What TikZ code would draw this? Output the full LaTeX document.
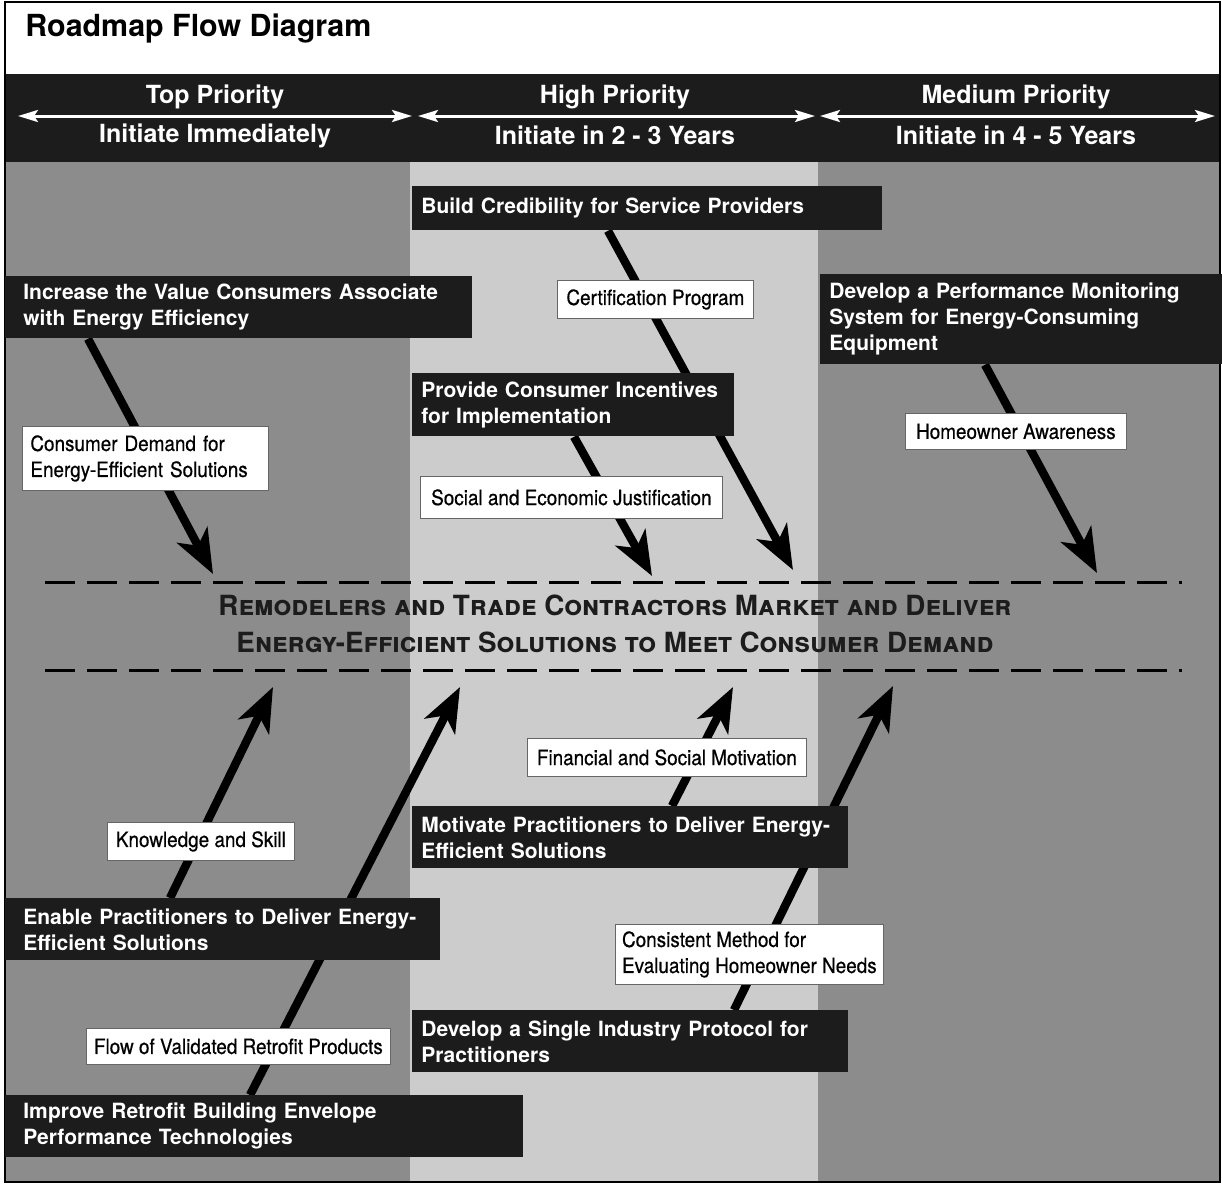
\documentclass[tikz,border=0pt]{standalone}
\usepackage{fontspec}
\setmainfont{TeX Gyre Heros}
\newfontfamily\lblfont[FakeStretch=0.9,FakeBold=0.6]{TeX Gyre Heros}
\usetikzlibrary{arrows.meta,calc}

\pgfdeclarelayer{bg}
\pgfdeclarelayer{arr}
\pgfsetlayers{bg,arr,main}

\definecolor{colgray}{gray}{0.55}
\definecolor{colpale}{gray}{0.80}
\definecolor{boxdark}{gray}{0.11}

\tikzset{
  actbox/.style={fill=boxdark, text=white, anchor=north west, align=left,
    inner xsep=4.5pt, inner ysep=0pt, font=\fontsize{10.5}{13}\selectfont\bfseries},
  flowlbl/.style={fill=white, draw=black!60, line width=0.4pt, anchor=north west,
    align=left, inner sep=0pt, font=\lblfont\fontsize{10.5}{13}\selectfont},
  flowarrow/.style={line width=4.2pt, -{Stealth[length=22pt,width=17pt,inset=6pt]}},
  hdrarrow/.style={white, line width=1.5pt,
    {Stealth[length=10pt,width=6pt,inset=2pt]}-{Stealth[length=10pt,width=6pt,inset=2pt]}},
  hdrtext/.style={text=white, font=\fontsize{12.5}{15}\selectfont\bfseries},
  goalline/.style={line width=1.5pt, dash pattern=on 15pt off 6pt},
}

\begin{document}
\begin{tikzpicture}[x=0.5pt,y=-0.5pt]

\useasboundingbox (0,0) rectangle (1222,1184);

% columns and header band
\begin{pgfonlayer}{bg}
\fill[white] (0,0) rectangle (1222,1184);
\fill[colgray] (5,162) rectangle (410,1182);
\fill[colpale] (410,162) rectangle (818,1182);
\fill[colgray] (818,162) rectangle (1220,1182);
\fill[boxdark] (5,74) rectangle (1220,162);
\draw[line width=0.8pt] (5,2) rectangle (1220,1182);
\end{pgfonlayer}

\node[anchor=west, inner sep=0pt, font=\fontsize{15.2}{18}\selectfont\bfseries] (title) at (25,28) {Roadmap Flow Diagram};

% priority header
\node[hdrtext] (toppri) at (215,97) {Top Priority};
\node[hdrtext] (topwhen) at (215,136) {Initiate Immediately};
\node[hdrtext] (highpri) at (615,97) {High Priority};
\node[hdrtext] (highwhen) at (615,135) {Initiate in 2 - 3 Years};
\node[hdrtext] (medpri) at (1016,97) {Medium Priority};
\node[hdrtext] (medwhen) at (1016,135) {Initiate in 4 - 5 Years};

\draw[hdrarrow] (18,116) -- (412,116);
\draw[hdrarrow] (418,116) -- (815,116);
\draw[hdrarrow] (820,116) -- (1215,116);

% action boxes
\node[actbox, text width=226pt, minimum height=22pt] (credib) at (412,186)
  {Build Credibility for Service Providers};
\node[actbox, inner xsep=9pt, text width=215.5pt, minimum height=31pt] (incval) at (5,276)
  {Increase the Value Consumers Associate\\with Energy Efficiency};
\node[actbox, text width=192pt, minimum height=45pt] (perfmon) at (820,274)
  {Develop a Performance Monitoring\\System for Energy-Consuming\\Equipment};
\node[actbox, text width=152pt, minimum height=31.5pt] (incent) at (412,373)
  {Provide Consumer Incentives\\for Implementation};
\node[actbox, text width=209pt, minimum height=31pt] (motiv) at (412,806)
  {Motivate Practitioners to Deliver Energy-\\Efficient Solutions};
\node[actbox, inner xsep=9pt, text width=199.5pt, minimum height=31pt] (enable) at (5,898)
  {Enable Practitioners to Deliver Energy-\\Efficient Solutions};
\node[actbox, text width=209pt, minimum height=31pt] (protocol) at (412,1010)
  {Develop a Single Industry Protocol for\\Practitioners};
\node[actbox, inner xsep=9pt, text width=241pt, minimum height=31pt] (envelope) at (5,1095)
  {Improve Retrofit Building Envelope\\Performance Technologies};

% arrow tips on the goal lines
\coordinate (dnA) at (213,574);
\coordinate (dnB) at (652,576);
\coordinate (dnC) at (793,570);
\coordinate (dnD) at (1097,573);
\coordinate (upA) at (273,687);
\coordinate (upB) at (460,687);
\coordinate (upC) at (733,687);
\coordinate (upD) at (893,686);

\begin{pgfonlayer}{arr}
\draw[flowarrow] ($(incval.south west)+(83,0)$) -- (dnA);
\draw[flowarrow] ($(incent.south west)+(162,0)$) -- (dnB);
\draw[flowarrow] ($(credib.south west)+(196,0)$) -- (dnC);
\draw[flowarrow] ($(perfmon.south west)+(165,0)$) -- (dnD);
\draw[flowarrow] ($(enable.north west)+(165,0)$) -- (upA);
\draw[flowarrow] ($(envelope.north west)+(245,0)$) -- (upB);
\draw[flowarrow] ($(motiv.north west)+(260,0)$) -- (upC);
\draw[flowarrow] ($(protocol.north west)+(322,0)$) -- (upD);
\end{pgfonlayer}

% goal
\draw[goalline] (45,582) -- (1182,582);
\draw[goalline] (45,670) -- (1182,670);
\node[font=\fontsize{13.9}{18.5}\selectfont\bfseries\scshape, text=boxdark, align=center] (goal) at (615,624)
  {Remodelers and Trade Contractors Market and Deliver\\Energy-Efficient Solutions to Meet Consumer Demand};

% flow labels
\node[flowlbl, minimum width=98pt, minimum height=19pt] (cert) at (557,280) {Certification Program};
\node[flowlbl, inner xsep=4pt, text width=115pt, minimum height=32pt] (demand) at (22,426)
  {Consumer Demand for\\Energy-Efficient Solutions};
\node[flowlbl, minimum width=110.5pt, minimum height=18pt] (aware) at (905,413) {Homeowner Awareness};
\node[flowlbl, minimum width=151pt, minimum height=21pt] (justif) at (420,476) {Social and Economic Justification};
\node[flowlbl, minimum width=139.5pt, minimum height=19pt] (finmot) at (527,738) {Financial and Social Motivation};
\node[flowlbl, minimum width=93.5pt, minimum height=19pt] (skill) at (107,822) {Knowledge and Skill};
\node[flowlbl, minimum width=134pt, minimum height=30pt] (consist) at (615,924)
  {Consistent Method for\\Evaluating Homeowner Needs};
\node[flowlbl, minimum width=152pt, minimum height=18pt] (products) at (86,1028) {Flow of Validated Retrofit Products};

\end{tikzpicture}
\end{document}
